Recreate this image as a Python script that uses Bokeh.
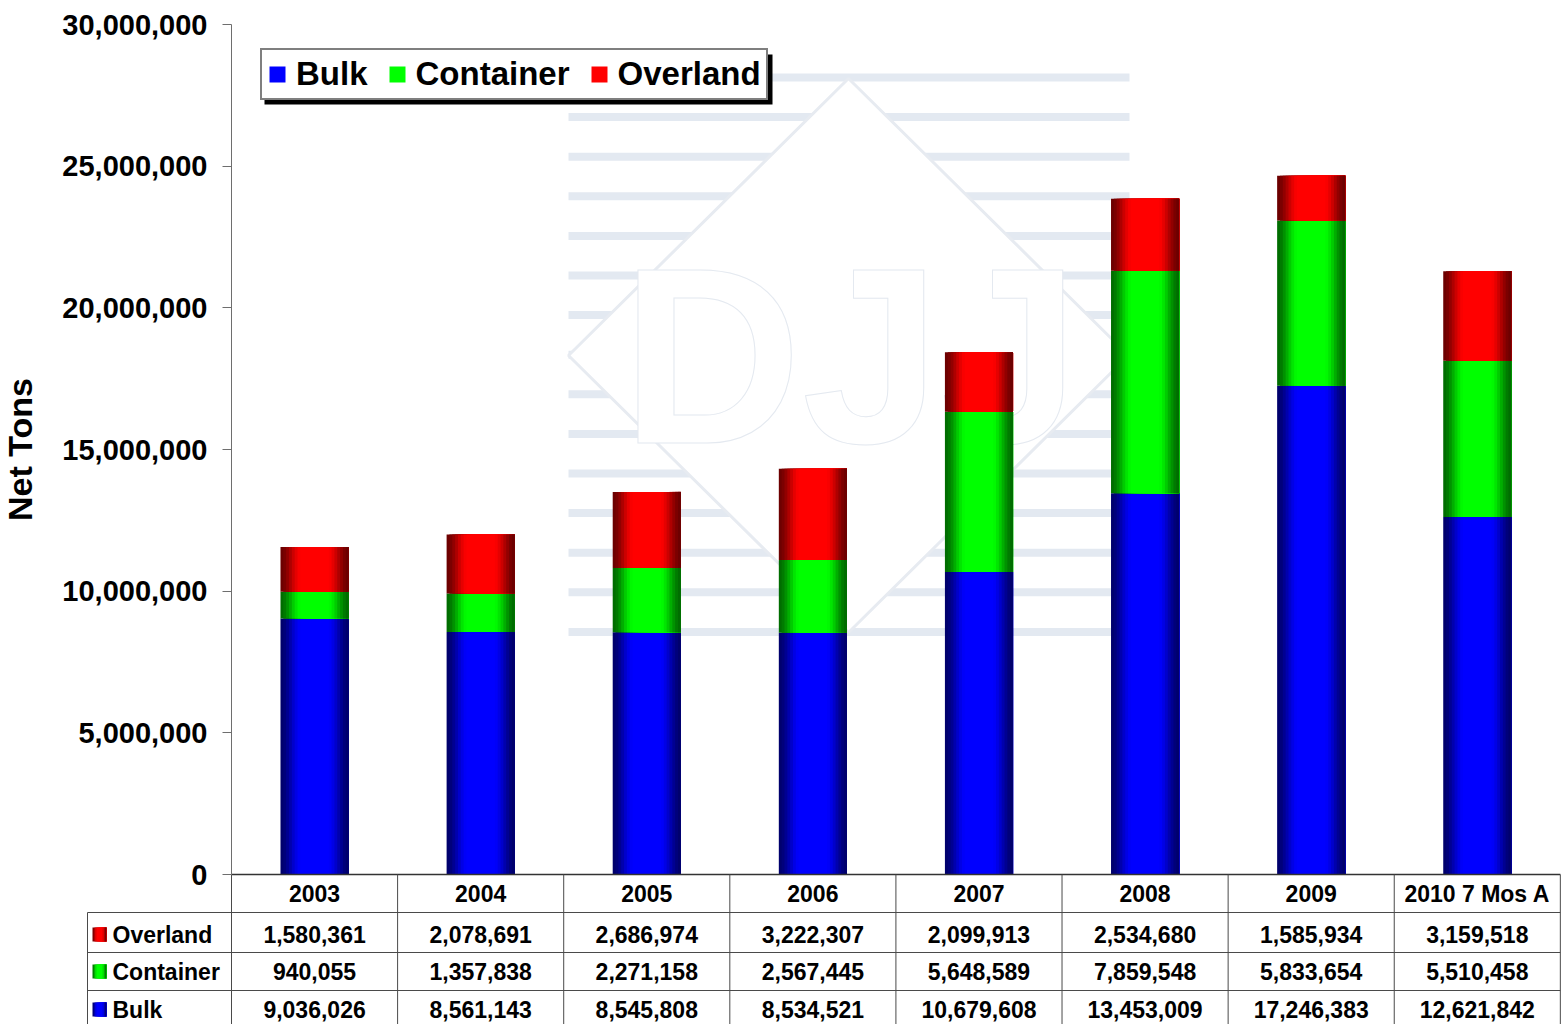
import numpy as np
from bokeh.plotting import figure
from bokeh.models import (Range1d, FixedTicker, NumeralTickFormatter, Legend,
                          LegendItem)
from bokeh.core.properties import value
from bokeh.embed import file_html
from bokeh.resources import INLINE

# ---------------- data ----------------
categories = ["2003", "2004", "2005", "2006", "2007", "2008", "2009", "2010 7 Mos A"]
bulk = [9036026, 8561143, 8545808, 8534521, 10679608, 13453009, 17246383, 12621842]
container = [940055, 1357838, 2271158, 2567445, 5648589, 7859548, 5833654, 5510458]
overland = [1580361, 2078691, 2686974, 3222307, 2099913, 2534680, 1585934, 3159518]
y_ticks = [0, 5000000, 10000000, 15000000, 20000000, 25000000, 30000000]
series_names = ["Bulk", "Container", "Overland"]
series_rgb = [(0, 0, 255), (0, 255, 0), (255, 0, 0)]
row_names = ["Overland", "Container", "Bulk"]

FONT = "Liberation Sans"

# ---------------- layout helpers (page pixels) ----------------
W, H = 1562, 1024
TABLE_LEFT_PX = 87          # table label column starts here
AXIS_PX = 231               # y axis / value 0 column
ZERO_PX, TOP_PX = 874, 24   # y pixel of 0 and of 30,000,000
n = len(categories)
X_END = n + 0.013
CATW = (W - AXIS_PX) / X_END
Y_TOP = y_ticks[-1]
PX_PER_UNIT = (ZERO_PX - TOP_PX) / Y_TOP


def xd(px):
    return (px - AXIS_PX) / CATW


def yd(py):
    return (ZERO_PX - py) / PX_PER_UNIT


def shade(t):
    d = 1 - abs(2 * t - 1)
    g = min(1.0, d / 0.62)
    g = g * g * (3 - 2 * g)
    return 0.42 + 0.58 * g


def rgb_hex(rgb, f):
    return "#%02x%02x%02x" % tuple(int(round(c * f)) for c in rgb)


p = figure(width=W, height=H, output_backend="svg", toolbar_location=None,
           x_range=Range1d(xd(0), X_END), y_range=Range1d(yd(H), yd(0)),
           min_border_left=0, min_border_right=0, min_border_top=0,
           min_border_bottom=0, background_fill_color="white",
           border_fill_color="white", outline_line_color=None)
p.xaxis.visible = False
p.grid.visible = False

# ---------------- watermark ----------------
wm_color = "#e3e9f1"
stripe_y = [77 + 39.6 * i for i in range(15)]
p.quad(left=[xd(568)] * 15, right=[xd(1129)] * 15,
       bottom=[yd(y + 4) for y in stripe_y], top=[yd(y - 4) for y in stripe_y],
       fill_color=wm_color, line_color=None)
p.patch(x=[xd(848), xd(1128), xd(848), xd(568)],
        y=[yd(78), yd(355), yd(632), yd(355)],
        fill_color="white", line_color="#e7ebf1", line_width=3)
p.text(x=[xd(850)], y=[yd(356)], text=["DJJ"], text_font=value(FONT),
       text_font_style="bold", text_font_size="250px", text_align="center",
       text_baseline="middle", text_color="white",
       text_outline_color="#e4e9f0")

# ---------------- stacked bars with horizontal gradient ----------------
centers = np.arange(n) + 0.5
bw = 0.41
N = 24
bottoms = np.zeros(n)
legend_renderers = []
for vals, rgb in zip([bulk, container, overland], series_rgb):
    tops = bottoms + np.array(vals, dtype=float)
    mid = None
    for k in range(N):
        t = (k + 0.5) / N
        col = rgb_hex(rgb, shade(t))
        lefts = centers - bw / 2 + k * bw / N
        r = p.quad(left=lefts, right=centers + bw / 2, bottom=bottoms, top=tops,
                   fill_color=col, line_color=None)
        if k == N // 2 - 2:
            mid = r
    legend_renderers.append(mid)
    bottoms = tops

# ---------------- y axis ----------------
ax = p.yaxis[0]
ax.fixed_location = 0
ax.bounds = (0, Y_TOP)
ax.ticker = FixedTicker(ticks=y_ticks)
ax.formatter = NumeralTickFormatter(format="0,0")
ax.major_label_text_font = FONT
ax.major_label_text_font_style = "bold"
ax.major_label_text_font_size = "29px"
ax.major_label_text_color = "black"
ax.major_label_standoff = 15
ax.major_tick_out = 9
ax.major_tick_in = 0
ax.minor_tick_line_color = None
ax.axis_line_color = "#6e6e6e"
ax.major_tick_line_color = "#6e6e6e"
ax.axis_label = "Net Tons"
ax.axis_label_text_font = FONT
ax.axis_label_text_font_style = "bold"
ax.axis_label_text_font_size = "34px"
ax.axis_label_text_color = "black"
ax.axis_label_standoff = 20

# ---------------- data table ----------------
line_col = "#4a4a4a"
header_y = yd(893)
row_y = [yd(934), yd(971), yd(1009)]
hl = [yd(912), yd(952), yd(990)]
p.segment(x0=[0], x1=[n], y0=[0], y1=[0], line_color="#333333", line_width=1.6)
p.segment(x0=[xd(TABLE_LEFT_PX)] * 3, x1=[n] * 3, y0=hl, y1=hl,
          line_color=line_col, line_width=1)
vx = list(range(0, n + 1))
p.segment(x0=vx, x1=vx, y0=[0] * (n + 1), y1=[yd(H)] * (n + 1),
          line_color=line_col, line_width=1)
p.segment(x0=[xd(TABLE_LEFT_PX)], x1=[xd(TABLE_LEFT_PX)], y0=[hl[0]],
          y1=[yd(H)], line_color=line_col, line_width=1)

p.text(x=centers, y=[header_y] * n, text=categories, text_font=value(FONT),
       text_font_style="bold", text_font_size="23px", text_align="center",
       text_baseline="middle", text_color="black")
for vals, ry in zip([overland, container, bulk], row_y):
    p.text(x=centers, y=[ry] * n, text=["{:,}".format(v) for v in vals],
           text_font=value(FONT), text_font_style="bold", text_font_size="23px",
           text_align="center", text_baseline="middle", text_color="black")

# row labels with colour keys
row_rgb = [series_rgb[2], series_rgb[1], series_rgb[0]]
ns = 7
for name, rgb, ry in zip(row_names, row_rgb, row_y):
    for k in range(ns):
        t = (k + 0.5) / ns
        col = rgb_hex(rgb, shade(t))
        p.quad(left=[xd(92 + k * 14.0 / ns)], right=[xd(106)],
               bottom=[ry - 7 / PX_PER_UNIT], top=[ry + 7 / PX_PER_UNIT],
               fill_color=col, line_color=None)
p.text(x=[xd(112)] * 3, y=row_y, text=row_names, text_font=value(FONT),
       text_font_style="bold", text_font_size="23px", text_align="left",
       text_baseline="middle", text_color="black")

# ---------------- legend (with drop shadow) ----------------
LEG_L, LEG_B, LEG_R, LEG_T = 260, 100, 768, 50
p.quad(left=[xd(LEG_L + 4)], right=[xd(LEG_R + 4)], top=[yd(LEG_T + 4)],
       bottom=[yd(LEG_B + 4)], fill_color="black", line_color=None)
legend = Legend(items=[LegendItem(label=nm, renderers=[r])
                       for nm, r in zip(series_names, legend_renderers)],
                orientation="horizontal",
                location=(LEG_L, H - LEG_B),
                label_text_font=FONT, label_text_font_style="bold",
                label_text_font_size="33px", label_text_color="black",
                glyph_width=20, glyph_height=20, label_standoff=9, spacing=19,
                padding=5, border_line_color="black", border_line_width=2,
                background_fill_color="white", background_fill_alpha=1)
p.add_layout(legend)

open("out.html", "w").write(file_html(p, INLINE))
